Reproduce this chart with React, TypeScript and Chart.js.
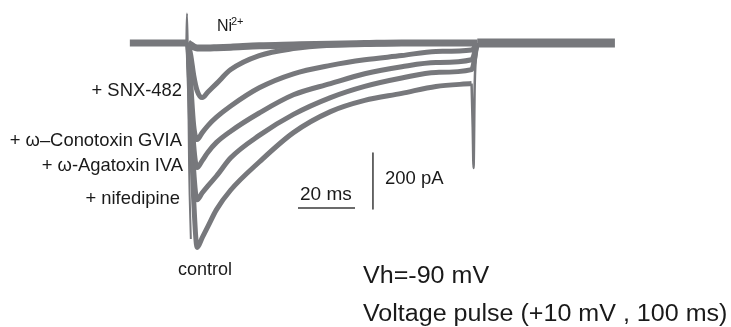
import React, { useEffect, useRef } from "react";
import { Chart, registerables } from "chart.js";

Chart.register(...registerables);

// time (ms) from pulse onset, shared by the pulse-period traces
const timeMs = [0, 1, 2, 3.2, 5, 7, 10, 15, 25, 37, 50, 62, 75, 87, 99.5];
// currents (pA)
const niCurrent = [0, -7, -14, -18, -18, -18, -17, -15, -10, -7, -4, -2, 0, 0, 0];
const snxCurrent = [0, -45, -115, -170, -195, -175, -145, -95, -45, -20, -8, -4, -2, 0, 0];
const conotoxinCurrent = [0, -150, -295, -345, -320, -295, -265, -225, -160, -110, -80, -60, -45, -30, -25];
const agatoxinCurrent = [0, -185, -365, -445, -420, -390, -355, -315, -250, -185, -145, -110, -85, -70, -60];
const nifedipineCurrent = [0, -240, -455, -560, -535, -510, -475, -410, -330, -255, -195, -155, -125, -105, -95];
const controlCurrent = [0, -310, -560, -730, -695, -655, -595, -525, -425, -320, -245, -205, -180, -155, -145];

// holding baseline before and after the pulse
const preTime = [-20.4, -0.6];
const preCurrent = [0, 0];
const postTime = [101.5, 149.8];
const postCurrent = [0, 0];

// capacitive transient at onset
const onsetTime = [-0.6, -0.35, -0.1, 0.4, 1.0];
const onsetCurrent = [0, 105, 0, -450, -700];

// tail current at pulse end
const tailTime = [99.5, 99.9, 100.2, 100.6, 101.2, 102.5];
const tailCurrent = [-145, -300, -446, -150, -40, 0];

// scale bars
const timeBarX = [38.6, 58.6];
const timeBarY = [-589, -589];
const currentBarX = [64.9, 64.9];
const currentBarY = [-393, -593];

// axis ranges
const X_MIN = -65.96;
const X_MAX = 190.53;
const Y_MIN = -1014.3;
const Y_MAX = 153.6;

const traceColor = "#77787c";
const barColor = "#3a3a3a";

function pts(t: number[], v: number[]) {
  return t.map((x, i) => ({ x, y: v[i] }));
}

function withEnd(t: number[], v: number[]) {
  // pulse trace joined to the post-pulse baseline
  return [...pts(t, v), { x: 101.5, y: 0 }];
}

const FONT = "'Liberation Sans', Arial, sans-serif";

function Label(props: {
  text: string;
  left?: number;
  right?: number;
  baseline: number;
  size: number;
  sx?: number;
}) {
  const { text, left, right, baseline, size, sx } = props;
  const style: React.CSSProperties = {
    position: "absolute",
    top: baseline - 0.8465 * size,
    fontFamily: FONT,
    fontSize: size,
    lineHeight: 1,
    whiteSpace: "nowrap",
    color: "#1a1a1a",
  };
  if (left !== undefined) style.left = left;
  if (right !== undefined) {
    style.right = 731 - right;
    style.textAlign = "right";
  }
  if (sx) {
    style.transform = `scaleX(${sx})`;
    style.transformOrigin = left !== undefined ? "left" : "right";
  }
  return <div style={style}>{text}</div>;
}

export default function App() {
  const ref = useRef<HTMLCanvasElement>(null);

  useEffect(() => {
    const line = (data: { x: number; y: number }[], width: number, color = traceColor) => ({
      data,
      showLine: true,
      borderColor: color,
      backgroundColor: color,
      borderWidth: width,
      pointRadius: 0,
      cubicInterpolationMode: "monotone" as const,
      borderJoinStyle: "round" as const,
    });
    const chart = new Chart(ref.current!, {
      type: "scatter",
      data: {
        datasets: [
          line(pts(preTime, preCurrent), 7),
          line(pts(postTime, postCurrent), 9),
          line(withEnd(timeMs, niCurrent), 7),
          line(withEnd(timeMs, snxCurrent), 5),
          line(withEnd(timeMs, conotoxinCurrent), 5),
          line(withEnd(timeMs, agatoxinCurrent), 5),
          line(withEnd(timeMs, nifedipineCurrent), 5),
          line(pts(timeMs, controlCurrent), 5),
          line(pts(onsetTime, onsetCurrent), 2),
          line(pts(tailTime, tailCurrent), 2.5),
          { ...line(pts(timeBarX, timeBarY), 1.5, barColor), cubicInterpolationMode: "default" as const },
          { ...line(pts(currentBarX, currentBarY), 1.5, barColor), cubicInterpolationMode: "default" as const },
        ],
      },
      options: {
        animation: false,
        responsive: false,
        devicePixelRatio: 1,
        layout: { padding: 0 },
        plugins: { legend: { display: false }, tooltip: { enabled: false } },
        scales: {
          x: { type: "linear", display: false, min: X_MIN, max: X_MAX },
          y: { type: "linear", display: false, min: Y_MIN, max: Y_MAX },
        },
      },
    });
    return () => chart.destroy();
  }, []);

  return (
    <div
      style={{
        position: "absolute",
        left: 0,
        top: 0,
        width: 731,
        height: 327,
        background: "#ffffff",
        overflow: "hidden",
      }}
    >
      <canvas ref={ref} width={731} height={327} style={{ position: "absolute", left: 0, top: 0 }} />
      <Label text="Ni" left={217} baseline={32} size={16} />
      <Label text="2+" left={231} baseline={25} size={11} />
      <Label text="+ SNX-482" right={182} baseline={97} size={18.4} />
      <Label text="+ ω–Conotoxin GVIA" right={182} baseline={147} size={18.4} />
      <Label text="+ ω-Agatoxin IVA" right={183} baseline={172} size={18.4} />
      <Label text="+ nifedipine" right={180} baseline={205} size={18.4} />
      <Label text="control" left={178} baseline={275} size={18} />
      <Label text="20 ms" left={300} baseline={200} size={19} />
      <Label text="200 pA" left={385} baseline={185} size={18.5} />
      <Label text="Vh=-90 mV" left={363} baseline={283} size={23} sx={1.09} />
      <Label text="Voltage pulse (+10 mV , 100 ms)" left={363} baseline={321} size={23} sx={1.09} />
    </div>
  );
}
